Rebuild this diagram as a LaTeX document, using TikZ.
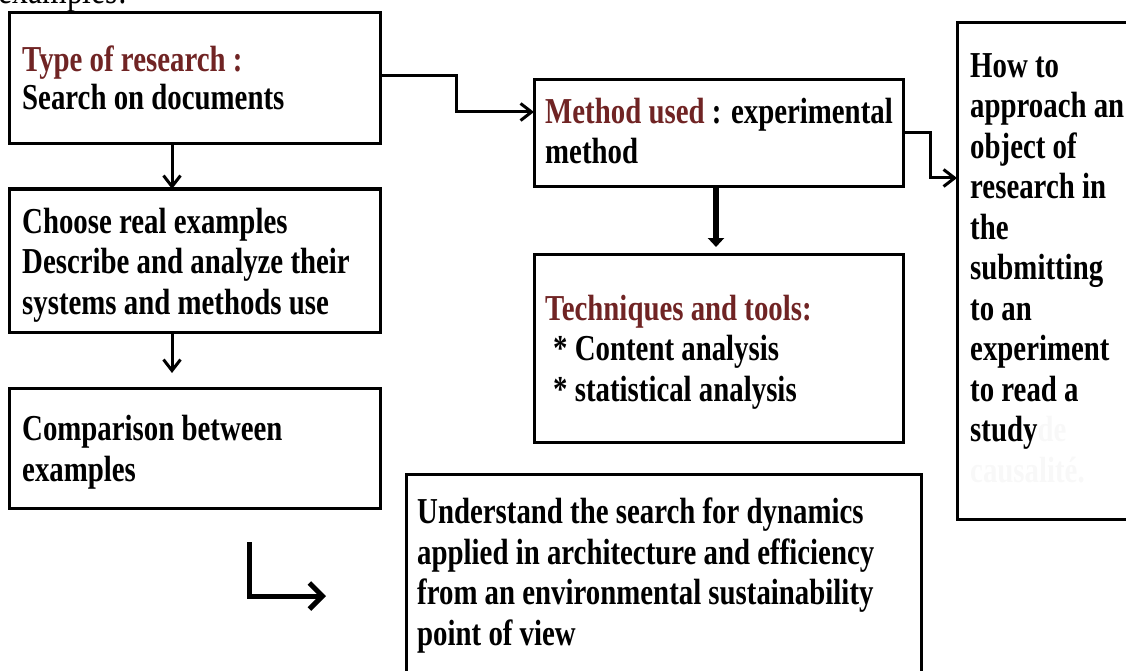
\documentclass[tikz,border=0pt]{standalone}
\usepackage{fontspec}
\setmainfont{Liberation Serif}[FakeStretch=0.79]
\usetikzlibrary{arrows.meta}
\definecolor{titlered}{RGB}{112,36,36}
\definecolor{ghost}{RGB}{248,248,248}
\begin{document}
\begin{tikzpicture}[x=1pt,y=-1pt,
  box/.style={draw, line width=3pt, outer sep=0pt, inner sep=0pt, anchor=north west},
  % multi-line texts are placed by the baseline of their last line
  txt/.style={anchor=base west, align=left, inner sep=0pt,
    font=\bfseries\fontsize{36.5}{40.5}\selectfont},
  link/.style={line width=3pt, line join=miter,
    -{Straight Barb[length=11pt,width=17pt]}},
  bold link/.style={line width=5.5pt,
    -{Triangle[length=9pt,width=16pt]}},
  free link/.style={line width=5pt, line join=miter,
    -{Straight Barb[length=13pt,width=26pt]}}
]
\useasboundingbox (0,0) rectangle (1126,671);

% caption fragment running above the chart
\node[anchor=base east, inner sep=0pt, font=\fontsize{40}{44}\selectfont] (cap) at (127,4) {examples:};

% boxes
\node[box, minimum width=371pt, minimum height=131pt] (b1) at (9,13) {};
\node[box, minimum width=371pt, minimum height=143pt] (b2) at (9,189) {};
\node[box, minimum width=371pt, minimum height=120pt] (b3) at (9,388) {};
\node[box, minimum width=369pt, minimum height=107pt] (b4) at (534,80) {};
\node[box, minimum width=369pt, minimum height=188pt] (b5) at (534,254) {};
\node[box, minimum width=515pt, minimum height=220pt] (b6) at (406,474) {};
\node[box, minimum width=190pt, minimum height=496pt] (b7) at (957,23) {};

% texts
\node[txt] (t1a) at (22,72) {\textcolor{titlered}{Type of research :}};
\node[txt] (t1b) at (22,110) {Search on documents};
\node[txt] (t2) at (22,314) {Choose real examples\\Describe and analyze their\\systems and methods use};
\node[txt] (t3) at (22,481) {Comparison between\\examples};
\node[txt] (t4) at (545,164) {\textcolor{titlered}{Method used} : experimental\\method};
\node[txt] (t5) at (545,401) {\textcolor{titlered}{Techniques and tools:}\\\hspace{8pt}* Content analysis\\\hspace{8pt}* statistical analysis};
\node[txt] (t6) at (417,645) {Understand the search for dynamics\\applied in architecture and efficiency\\from an environmental sustainability\\point of view};
\node[txt] (t7) at (970,482) {How to\\approach an\\object of\\research in\\the\\submitting\\to an\\experiment\\to read a\\study\textcolor{ghost}{ de}\\\textcolor{ghost}{causalité.}};

% connectors
\draw[link] (b1.south -| 172,0) -- (b2.north -| 172,0);
\draw[link, shorten >=15pt] (b2.south -| 172,0) -- (b3.north -| 172,0);
\draw[link] (b1.east |- 0,76) -- (456,76) -- (456,112) -- (b4.west |- 0,112);
\draw[link] (b4.east |- 0,133) -- (930,133) -- (930,178) -- (b7.west |- 0,178);
\draw[bold link, shorten >=7pt] (b4.south -| 716,0) -- (b5.north -| 716,0);

% stand-alone turning arrow
\coordinate (turnA) at (249,542);
\coordinate (turnB) at (326,596);
\draw[free link] (turnA) |- (turnB);
\end{tikzpicture}
\end{document}
